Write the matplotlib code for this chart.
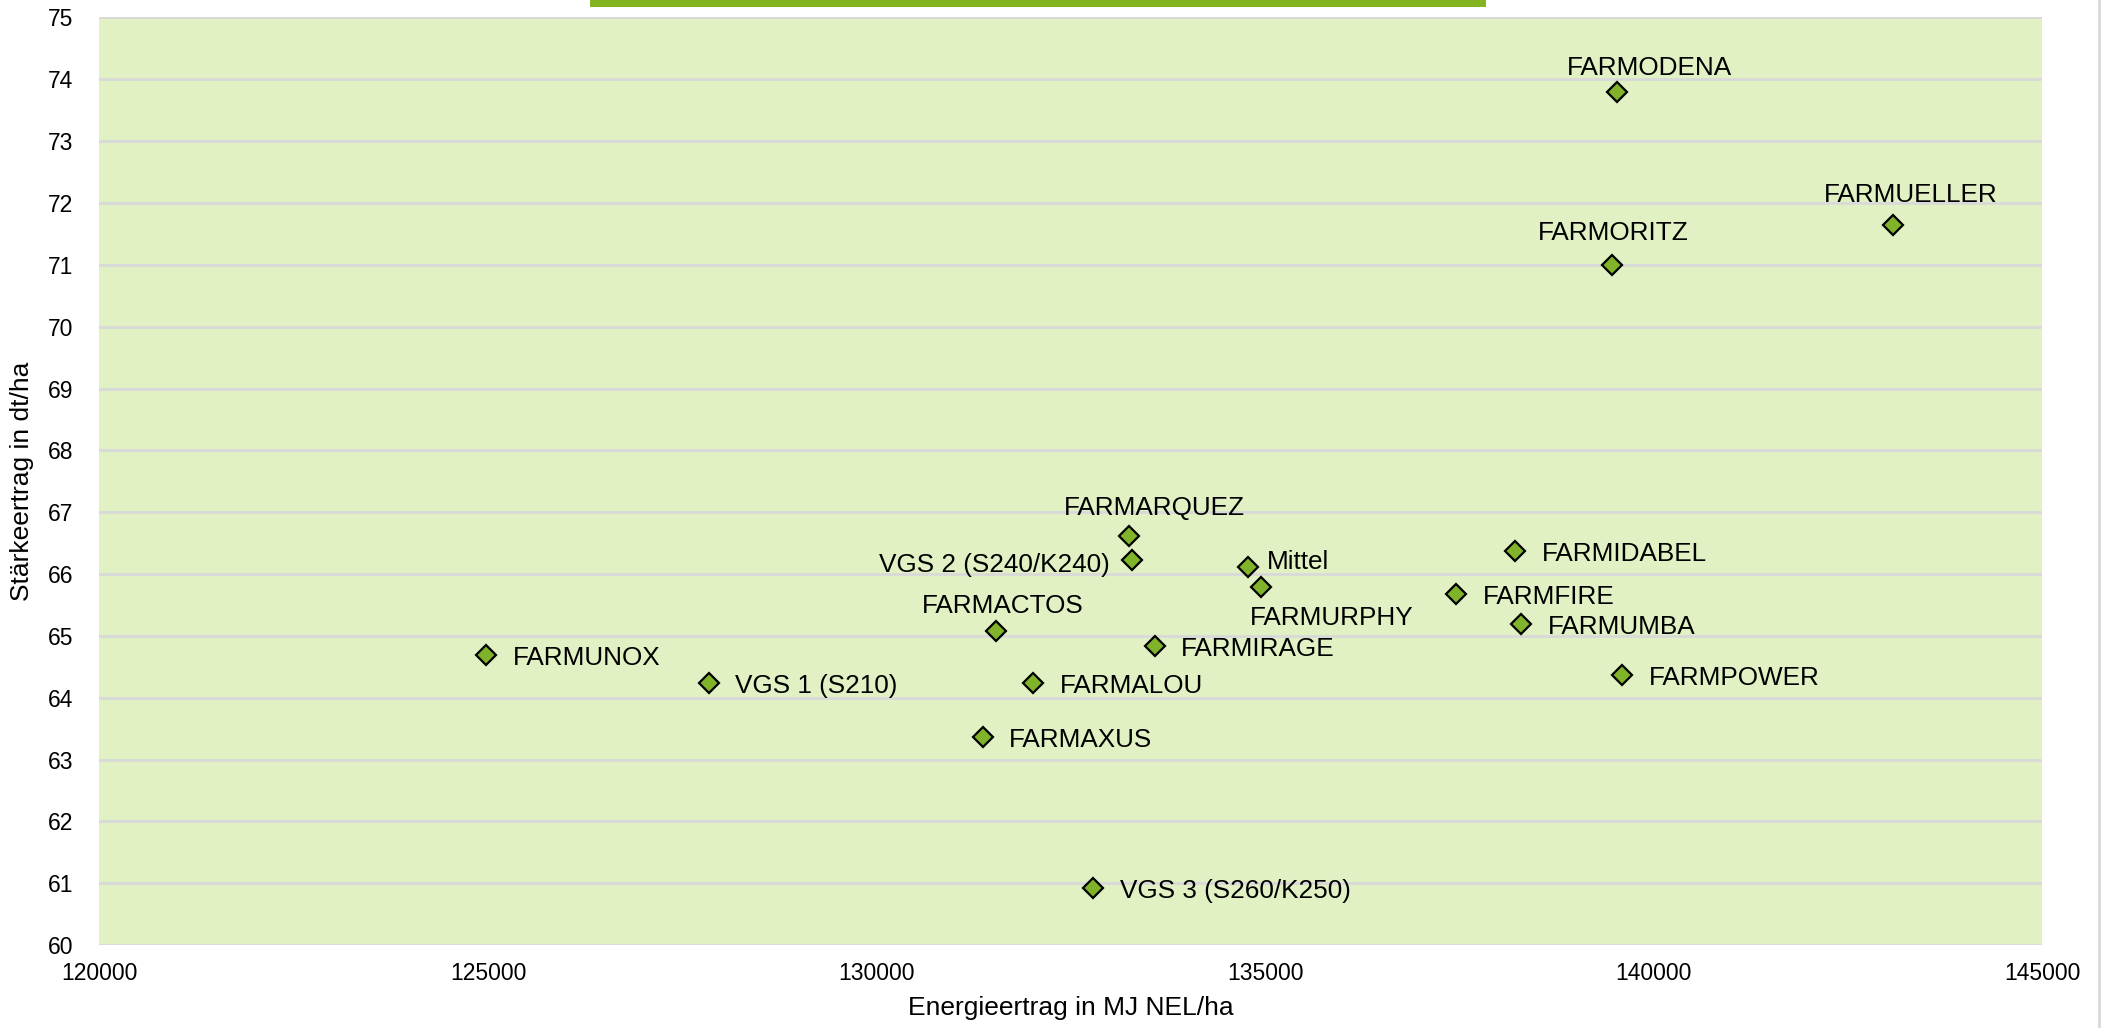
import matplotlib
matplotlib.use("Agg")
import matplotlib.pyplot as plt
from matplotlib.patches import Rectangle
from matplotlib.lines import Line2D

plt.rcParams['font.family'] = ['Liberation Sans', 'DejaVu Sans']

# Sorten und Werte
sorten = ["FARMODENA", "FARMUELLER", "FARMORITZ", "FARMARQUEZ", "VGS 2 (S240/K240)",
          "Mittel", "FARMURPHY", "FARMIDABEL", "FARMFIRE", "FARMUMBA", "FARMPOWER",
          "FARMACTOS", "FARMIRAGE", "FARMUNOX", "VGS 1 (S210)", "FARMALOU",
          "FARMAXUS", "VGS 3 (S260/K250)"]
energie = [139530, 143080, 139460, 133250, 133290,
           134780, 134950, 138220, 137460, 138300, 139600,
           131540, 133580, 124980, 127840, 132020,
           131370, 132790]
staerke = [73.80, 71.65, 71.00, 66.62, 66.22,
           66.12, 65.79, 66.37, 65.67, 65.19, 64.36,
           65.08, 64.84, 64.69, 64.23, 64.23,
           63.36, 60.92]

# label placement (offset in points, alignment)
placement = {
    "FARMODENA": (23, 17, 'center'), "FARMUELLER": (13, 21, 'center'),
    "FARMORITZ": (1, 23, 'center'), "FARMARQUEZ": (18, 20, 'center'),
    "FARMACTOS": (5, 18, 'center'), "FARMURPHY": (51, -22, 'center'),
    "VGS 2 (S240/K240)": (-16, -3, 'right'), "Mittel": (14, 3, 'left'),
}

fig = plt.figure(figsize=(21.08, 10.28), dpi=100)
ax = fig.add_axes([0.0472, 0.0807, 0.9215, 0.9023])
ax.set_facecolor('#e2f1c4')

ax.plot(energie, staerke, linestyle='none', marker='D', markersize=10,
        markerfacecolor='#80b329', markeredgecolor='black', markeredgewidth=1.6,
        zorder=3)

for name, x, y in zip(sorten, energie, staerke):
    dx, dy, ha = placement.get(name, (19, -2, 'left'))
    ax.annotate(name, (x, y), xytext=(dx, dy), textcoords='offset points',
                ha=ha, va='center', fontsize=18.8, color='black', zorder=4)

ax.set_xlim(120000, 145000)
ax.set_ylim(60, 75)
ax.set_xticks(range(120000, 145001, 5000))
ax.set_yticks(range(60, 76))
ax.tick_params(length=0, labelsize=16.5, colors='black')
ax.tick_params(axis='y', pad=19)
ax.tick_params(axis='x', pad=12)
ax.grid(axis='y', color='#d9d9d9', linewidth=2)
ax.set_axisbelow(True)
for s in ax.spines.values():
    s.set_visible(False)

ax.set_xlabel("Energieertrag in MJ NEL/ha", fontsize=19, labelpad=8)
ax.set_ylabel("Stärkeertrag in dt/ha", fontsize=19, labelpad=10)

# green banner at top (cut off)
fig.patches.append(Rectangle((0.28, 0.993), 0.425, 0.01, transform=fig.transFigure,
                             facecolor='#84b521', edgecolor='none'))
fig.lines.append(Line2D([0.9955, 0.9955], [0, 1], transform=fig.transFigure,
                        color='#d9d9d9', linewidth=2))

fig.savefig("out.png", dpi=100)
